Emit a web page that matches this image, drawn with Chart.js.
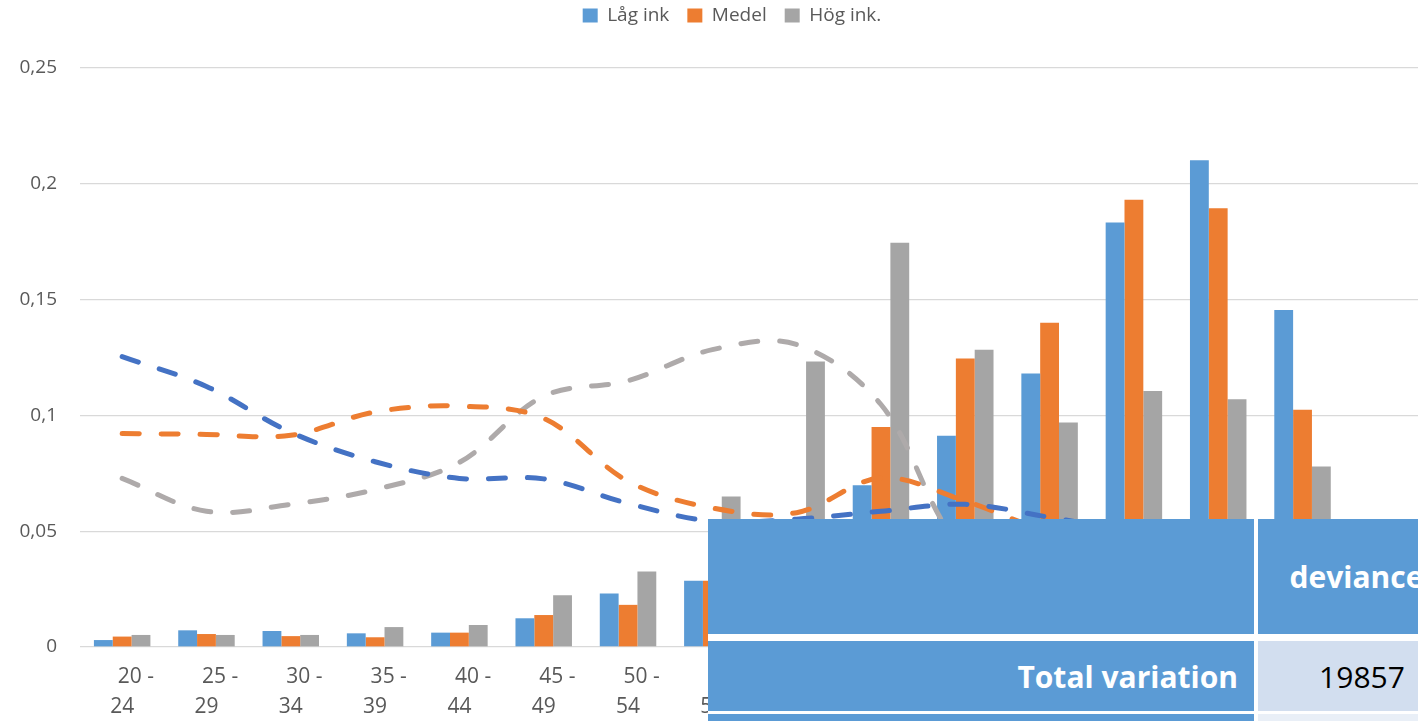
<!DOCTYPE html>
<html>
<head>
<meta charset="utf-8">
<title>Inkomstgrupper per ålder</title>
<script src="https://cdn.jsdelivr.net/npm/chart.js@4.4.1/dist/chart.umd.min.js"></script>
<style>
  html, body { margin: 0; padding: 0; background: #fff; overflow: hidden; width: 1418px; height: 721px; }
  #wrap { position: absolute; left: 0; top: 0; width: 1464px; height: 737px; }
  .tbl { position: absolute; left: 708px; top: 519px; width: 761px; height: 215px; background: #fff;
         font-family: "Open Sans", sans-serif; z-index: 2; }
  .cell { position: absolute; box-sizing: border-box; display: flex; align-items: center; }
  .head { background: #5B9BD5; color: #fff; font-weight: 700; font-size: 30px; }
  .val { background: #D2DEEF; color: #000; font-size: 30px; justify-content: center; }
  .val2 { background: #E9EFF7; }
</style>
</head>
<body>
<div id="wrap"><canvas id="chart"></canvas></div>

<div class="tbl">
  <div class="cell head" style="left:0;top:0;width:546px;height:115px;"></div>
  <div class="cell head" style="left:550px;top:0;width:211px;height:115px;justify-content:center;padding-right:14px;">deviance</div>
  <div class="cell head" style="left:0;top:122px;width:546px;height:70px;justify-content:flex-end;padding-right:16px;">Total variation</div>
  <div class="cell val" style="left:550px;top:122px;width:211px;height:70px;padding-right:3px;">19857</div>
  <div class="cell head" style="left:0;top:195px;width:546px;height:20px;"></div>
  <div class="cell val val2" style="left:550px;top:195px;width:211px;height:20px;"></div>
</div>

<script>
// Age groups on the category axis
const ageGroups = ["20 - 24", "25 - 29", "30 - 34", "35 - 39", "40 - 44", "45 - 49", "50 - 54", "55 - 59",
                   "60 - 64", "65 - 69", "70 - 74", "75 - 79", "80 - 84", "85 - 89", "90 - 94", "95 - 99"];

// Share per age group for each income level (bars)
const lagInk  = [0.003, 0.0072, 0.0069, 0.0059, 0.0062, 0.0124, 0.0231, 0.0286, 0.040, 0.0698, 0.0912, 0.1181, 0.1833, 0.2102, 0.1455, 0.049];
const medel   = [0.0045, 0.0056, 0.0047, 0.0042, 0.0062, 0.0138, 0.0182, 0.0286, 0.045, 0.095, 0.1246, 0.140, 0.1931, 0.1894, 0.1024, 0.025];
const hogInk  = [0.0052, 0.0052, 0.0052, 0.0086, 0.0095, 0.0223, 0.0326, 0.065, 0.1233, 0.1746, 0.1283, 0.0969, 0.1105, 0.107, 0.0779, 0.028];

// Dashed comparison curves for the same three groups
const lagLine   = [0.1254, 0.1125, 0.0927, 0.080, 0.0728, 0.0726, 0.062, 0.0543, 0.0552, 0.0586, 0.0616, 0.056, 0.050, 0.046, 0.042, 0.040];
const medelLine = [0.0922, 0.0918, 0.0914, 0.1015, 0.104, 0.0987, 0.0716, 0.060, 0.058, 0.073, 0.063, 0.050, 0.045, 0.042, 0.040, 0.038];
const hogLine   = [0.0728, 0.0586, 0.0616, 0.068, 0.0797, 0.1083, 0.115, 0.1284, 0.1306, 0.1047, 0.042, 0.040, 0.038, 0.036, 0.034, 0.032];

// Value axis ticks
const yMin = 0, yMax = 0.25, yStep = 0.05;

const BLUE = '#5B9BD5', ORANGE = '#ED7D31', GREY = '#A5A5A5';
const TEXT = '#595959';

Chart.defaults.font.family = '"Open Sans", sans-serif';
Chart.defaults.color = TEXT;

// Extra room below the legend so the plot starts lower
const legendGap = {
  id: 'legendGap',
  beforeInit(chart) {
    const lg = chart.legend;
    if (!lg) return;
    const fit = lg.fit;
    lg.fit = function () { fit.call(this); this.height += 33; };
  }
};

function barSet(label, data, color) {
  return { type: 'bar', label, data, backgroundColor: color, borderWidth: 0, order: 1,
           categoryPercentage: 0.67, barPercentage: 1.0 };
}
function lineSet(label, data, color) {
  return { type: 'line', label, data, borderColor: color, backgroundColor: color, borderWidth: 5,
           borderDash: [17, 22], borderCapStyle: 'round', pointRadius: 0, tension: 0.35,
           fill: false, order: 0 };
}

new Chart(document.getElementById('chart'), {
  data: {
    labels: ageGroups,
    datasets: [
      barSet('Låg ink', lagInk, BLUE),
      barSet('Medel', medel, ORANGE),
      barSet('Hög ink.', hogInk, GREY),
      lineSet('Låg ink (kurva)', lagLine, '#4472C4'),
      lineSet('Medel (kurva)', medelLine, '#ED7D31'),
      lineSet('Hög ink. (kurva)', hogLine, '#AEAAAA')
    ]
  },
  plugins: [legendGap],
  options: {
    responsive: true,
    maintainAspectRatio: false,
    animation: false,
    layout: { padding: { top: -12, left: 0, right: 0, bottom: 0 } },
    plugins: {
      legend: {
        position: 'top',
        labels: {
          boxWidth: 15, boxHeight: 14, padding: 18, color: TEXT,
          font: { size: 19 },
          filter: (item) => item.datasetIndex < 3
        }
      },
      tooltip: { enabled: false }
    },
    scales: {
      x: {
        grid: { display: false, drawTicks: false },
        border: { display: false },
        ticks: {
          padding: 15, autoSkip: false, maxRotation: 0, color: TEXT,
          font: { size: 21, lineHeight: 1.43 },
          callback: (v, i) => {
            const parts = ageGroups[i].split(' - ');
            return ['     ' + parts[0] + ' -', parts[1]];
          }
        },
        afterFit(s) { s.height = 90; }
      },
      y: {
        min: yMin, max: yMax,
        grid: { color: '#D9D9D9', lineWidth: 1.3, drawTicks: false },
        border: { display: false },
        ticks: {
          stepSize: yStep, padding: 23, color: TEXT, font: { size: 19 },
          callback: (v) => String(Math.round(v * 100) / 100).replace('.', ',')
        },
        afterFit(s) { s.width = 80; }
      },
      yRight: {
        type: 'linear', position: 'right', display: true,
        grid: { display: false, drawTicks: false },
        border: { display: false },
        ticks: { display: false },
        afterFit(s) { s.width = 35; }
      }
    }
  }
});
</script>
</body>
</html>
